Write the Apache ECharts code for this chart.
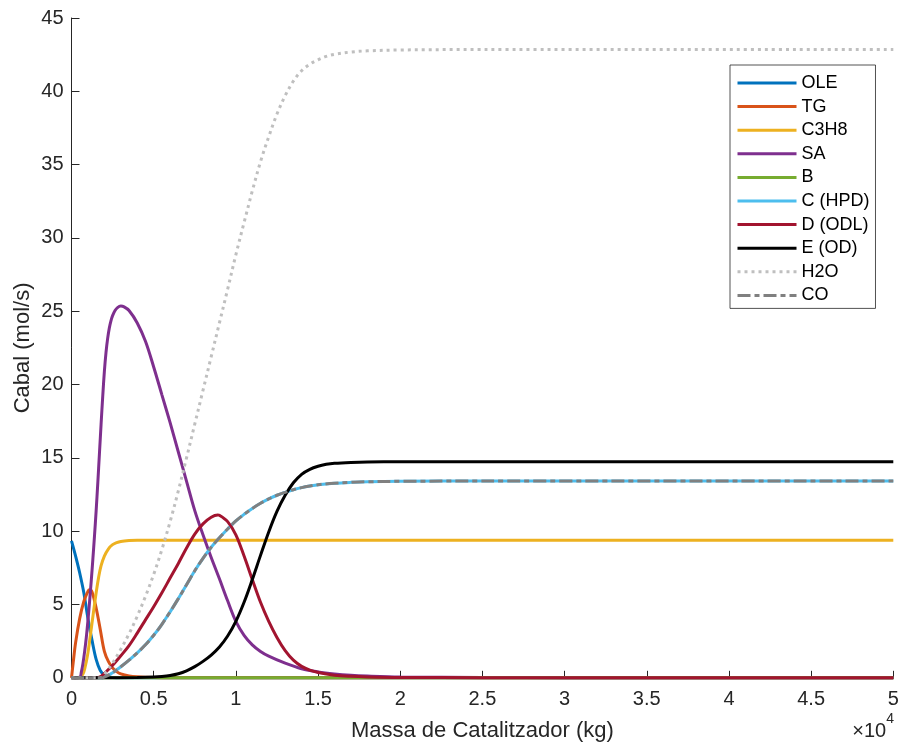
<!DOCTYPE html>
<html>
<head>
<meta charset="utf-8">
<script src="https://cdn.jsdelivr.net/npm/echarts@6/dist/echarts.min.js"></script>
<style>html,body{margin:0;padding:0;background:#fff}#c{width:898px;height:742px}</style>
</head>
<body>
<div id="c"></div>
<script>
// x in kg, y in mol/s
const xTicks = [0, 0.5, 1, 1.5, 2, 2.5, 3, 3.5, 4, 4.5, 5]; // ×10^4
const yTicks = [0, 5, 10, 15, 20, 25, 30, 35, 40, 45];
const seriesNames = ['OLE', 'TG', 'C3H8', 'SA', 'B', 'C (HPD)', 'D (ODL)', 'E (OD)', 'H2O', 'CO'];

const OLE = [[0,9.34],[250,8.3],[500,7.15],[750,5.8],[1000,4.05],[1250,2.55],[1500,1.25],[1750,0.5],[2000,0.18],[2250,0.07],[2500,0.02],[3000,0],[50000,0]];
const TG = [[0,0],[100,1.0],[250,2.4],[500,4.05],[750,5.2],[1000,5.9],[1100,6.0],[1250,5.85],[1500,4.75],[1750,3.3],[2000,1.8],[2250,1.1],[2500,0.68],[2750,0.42],[3000,0.27],[3500,0.13],[4000,0.07],[5000,0.02],[6000,0],[50000,0]];
const C3H8 = [[0,0],[500,0.03],[600,0.1],[750,0.4],[900,1.1],[1000,1.7],[1100,2.5],[1250,3.75],[1400,5.0],[1500,5.8],[1650,6.85],[1800,7.65],[2000,8.3],[2250,8.8],[2500,9.08],[2750,9.22],[3000,9.3],[3500,9.36],[4000,9.38],[50000,9.38]];
const SA = [[0,0],[500,0.05],[600,0.4],[700,1.0],[800,1.8],[900,2.75],[1000,3.9],[1100,5.2],[1200,6.6],[1300,8.1],[1400,9.7],[1500,11.4],[1600,13.3],[1700,15.3],[1800,17.3],[1900,19.2],[2000,20.9],[2100,22.2],[2200,23.15],[2300,23.85],[2400,24.35],[2500,24.7],[2650,25.05],[2800,25.25],[3000,25.35],[3200,25.3],[3500,25.05],[4000,24.2],[4500,22.95],[5000,21.2],[5500,19.3],[6000,17.4],[6500,15.4],[7000,13.4],[7500,11.4],[8000,9.75],[8500,8.2],[9000,6.75],[9500,5.25],[10000,3.85],[10500,2.9],[11000,2.25],[11500,1.8],[12000,1.48],[13000,1.0],[14000,0.62],[15000,0.4],[16000,0.26],[17000,0.17],[18000,0.12],[20000,0.06],[25000,0.02],[30000,0.01],[50000,0]];
const B = [[0,0],[10000,0],[20000,0],[30000,0],[40000,0],[50000,0]];
const C_HPD = [[0,0],[1800,0],[2000,0.05],[2500,0.35],[3000,0.75],[3500,1.2],[4000,1.7],[4500,2.25],[5000,2.9],[5500,3.65],[6000,4.5],[6500,5.4],[7000,6.35],[7500,7.3],[8000,8.15],[8500,8.9],[9000,9.55],[9500,10.15],[10000,10.7],[10500,11.15],[11000,11.55],[11500,11.9],[12000,12.2],[12500,12.45],[13000,12.65],[13500,12.83],[14000,12.97],[14500,13.08],[15000,13.17],[16000,13.27],[17000,13.33],[18000,13.37],[20000,13.4],[25000,13.42],[50000,13.42]];
const D_ODL = [[0,0],[1500,0],[1800,0.1],[2000,0.3],[2500,0.85],[3000,1.5],[3500,2.2],[4000,3.05],[4500,3.95],[5000,4.85],[5500,5.8],[6000,6.8],[6500,7.8],[7000,8.85],[7500,9.8],[8000,10.5],[8500,10.95],[8900,11.1],[9000,11.08],[9500,10.65],[10000,9.75],[10500,8.3],[11000,6.7],[11500,5.15],[12000,3.85],[12500,2.75],[13000,1.85],[13500,1.2],[14000,0.78],[14500,0.52],[15000,0.36],[16000,0.18],[17000,0.1],[18000,0.06],[20000,0.025],[25000,0.01],[30000,0],[50000,0]];
const E_OD = [[0,0],[4000,0.02],[5000,0.05],[5500,0.09],[6000,0.16],[6500,0.28],[7000,0.48],[7500,0.76],[8000,1.12],[8500,1.55],[9000,2.1],[9500,2.85],[10000,3.85],[10500,5.15],[11000,6.7],[11500,8.35],[12000,9.95],[12500,11.35],[13000,12.45],[13500,13.3],[14000,13.88],[14500,14.22],[15000,14.43],[15500,14.56],[16000,14.63],[17000,14.69],[18000,14.72],[20000,14.73],[50000,14.74]];
const H2O = [[0,0],[1800,0],[2100,0.4],[2500,1.0],[3000,1.95],[3500,3.0],[4000,4.2],[4500,5.55],[5000,7.05],[5500,8.75],[6000,10.65],[6500,12.75],[7000,15.0],[7500,17.3],[8000,19.6],[8500,21.9],[9000,24.2],[9500,26.5],[10000,28.85],[10500,31.05],[11000,33.2],[11500,35.2],[12000,36.9],[12500,38.45],[13000,39.7],[13500,40.7],[14000,41.4],[14500,41.85],[15000,42.15],[15500,42.38],[16000,42.52],[17000,42.68],[18000,42.76],[20000,42.82],[25000,42.85],[50000,42.85]];
const CO = C_HPD;

const colors = ['#0072BD','#D95319','#EDB120','#7E2F8E','#77AC30','#4DBEEE','#A2142F','#000000','#BFBFBF','#808080'];
const dataList = [OLE, TG, C3H8, SA, B, C_HPD, D_ODL, E_OD, H2O, CO];
const dashes = ['solid','solid','solid','solid','solid','solid','solid','solid',[3,4],[13,4,5,4]];

const font = '"Liberation Sans", Arial, Helvetica, sans-serif';
const txt = '#262626';
const chart = echarts.init(document.getElementById('c'), null, {renderer: 'canvas'});

chart.setOption({
  animation: false,
  backgroundColor: '#fff',
  textStyle: {fontFamily: font},
  grid: {left: 71.5, right: 4.7, top: 18, bottom: 64.2, containLabel: false, outerBoundsMode: 'none'},
  legend: {
    orient: 'vertical',
    left: 730, top: 65,
    padding: [9, 6, 4, 6],
    itemWidth: 59, itemHeight: 14, itemGap: 5.6,
    backgroundColor: '#fff',
    borderColor: '#262626', borderWidth: 0.8, borderRadius: 0,
    textStyle: {fontFamily: font, fontSize: 18, color: '#000'},
    itemStyle: {opacity: 0},
    lineStyle: {width: 3},
    data: seriesNames
  },
  xAxis: {
    type: 'value', min: 0, max: 50000, interval: 5000,
    name: 'Massa de Catalitzador (kg)', nameLocation: 'middle', nameGap: 42,
    nameMoveOverlap: false,
    nameTextStyle: {fontFamily: font, fontSize: 22, color: txt},
    axisLine: {show: true, lineStyle: {color: txt, width: 1}},
    axisTick: {show: true, inside: true, length: 7, lineStyle: {color: txt}},
    axisLabel: {fontFamily: font, fontSize: 20, color: txt, margin: 12,
      formatter: v => String(xTicks[Math.round(v / 5000)])},
    splitLine: {show: false}
  },
  yAxis: {
    type: 'value', min: 0, max: 45, interval: 5,
    name: 'Cabal (mol/s)', nameLocation: 'middle', nameGap: 38,
    nameMoveOverlap: false,
    nameTextStyle: {fontFamily: font, fontSize: 22, color: txt},
    axisLine: {show: true, lineStyle: {color: txt, width: 1}},
    axisTick: {show: true, inside: true, length: 8, lineStyle: {color: txt}},
    axisLabel: {fontFamily: font, fontSize: 20, color: txt, margin: 8,
      formatter: v => String(yTicks[Math.round(v / 5)])},
    splitLine: {show: false}
  },
  graphic: [{
    type: 'text', right: 4, top: 712,
    style: {
      text: '{a|×10}{b|4}',
      rich: {
        a: {fontFamily: font, fontSize: 20, fill: txt, verticalAlign: 'bottom', padding: [9,0,0,0]},
        b: {fontFamily: font, fontSize: 14, fill: txt, verticalAlign: 'top'}
      }
    }
  }],
  series: seriesNames.map((n, i) => ({
    name: n, type: 'line', data: dataList[i],
    symbol: 'none', clip: false,
    smooth: 0.35,
    color: colors[i],
    lineStyle: {color: colors[i], width: 3, type: dashes[i], cap: 'butt'},
    emphasis: {disabled: true}
  }))
});
</script>
</body>
</html>
